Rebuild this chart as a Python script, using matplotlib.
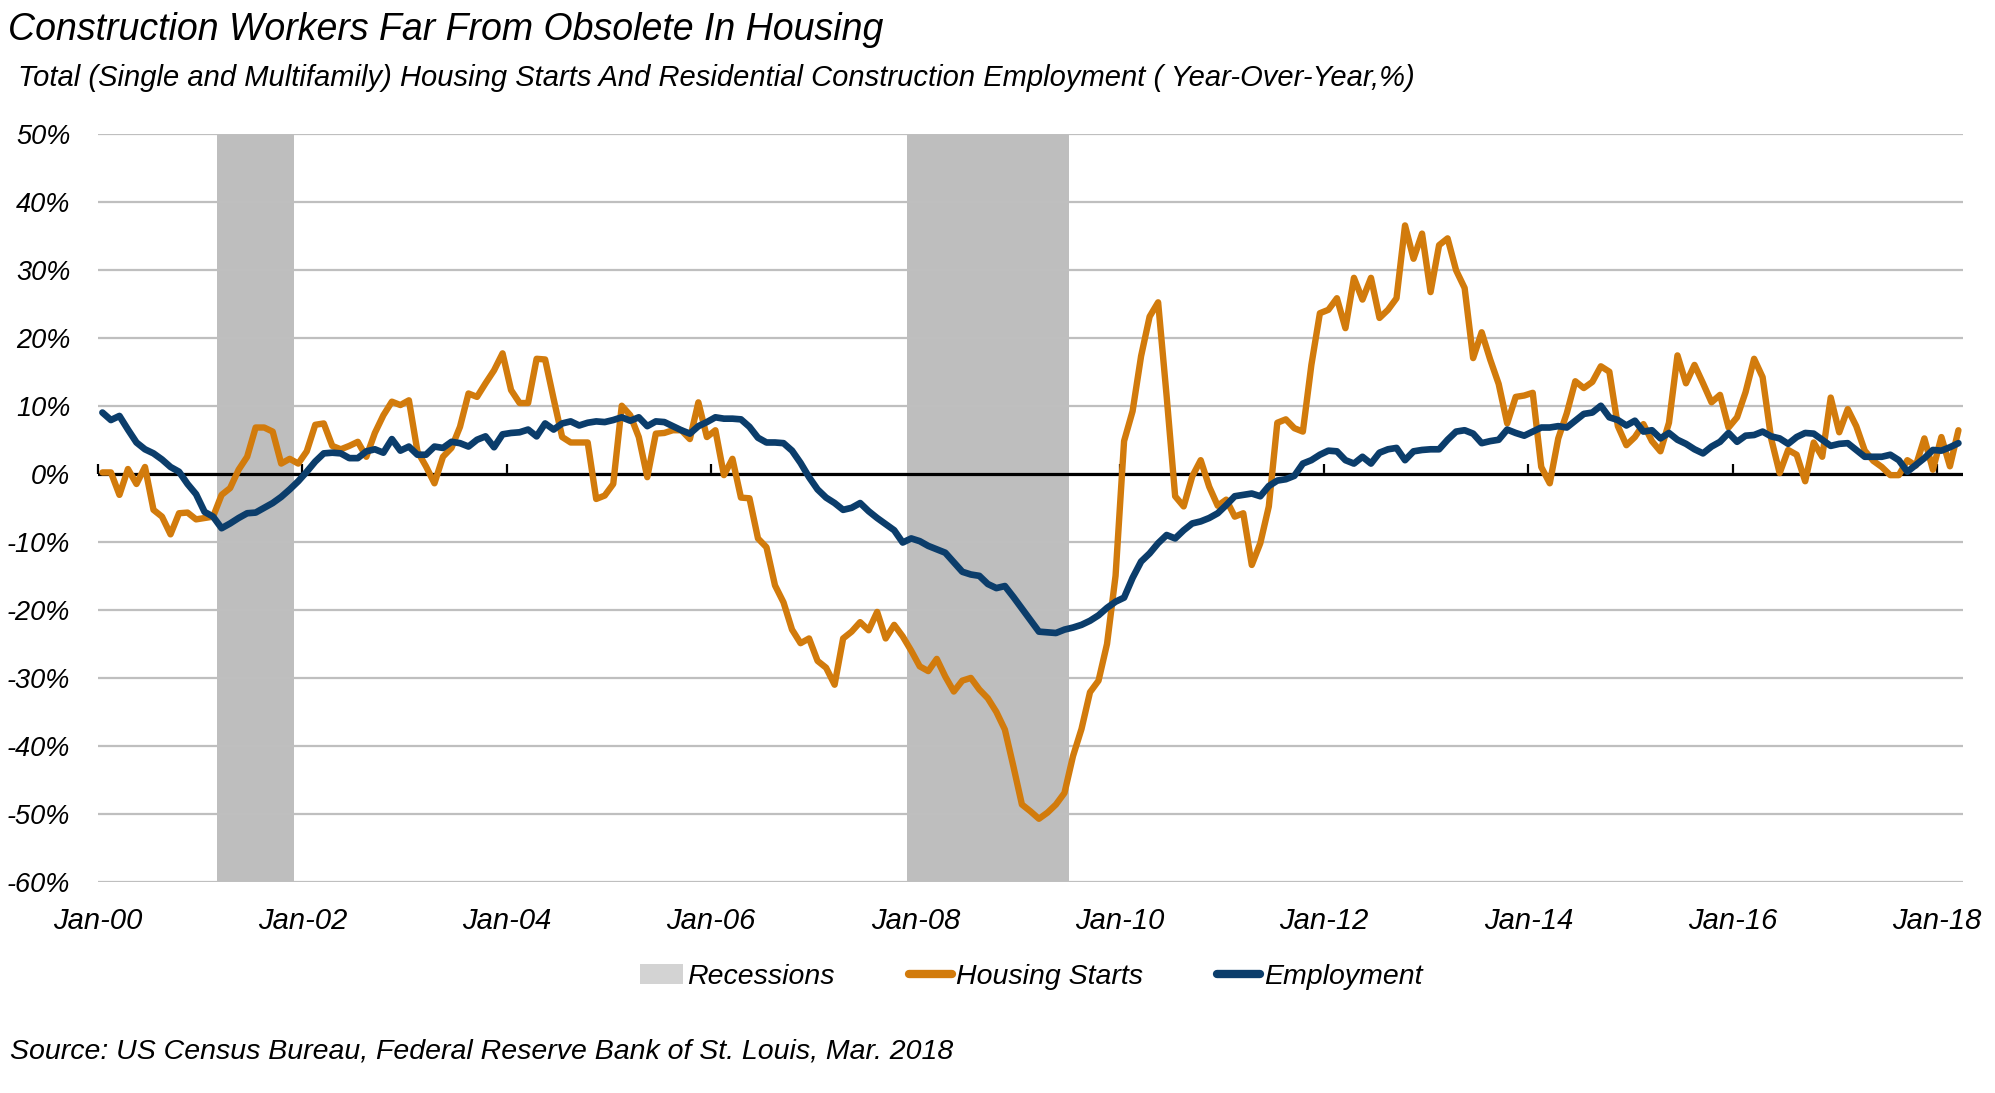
import numpy as np
import matplotlib
matplotlib.use("Agg")
import matplotlib.pyplot as plt
from matplotlib import font_manager
from matplotlib.patches import Patch
from matplotlib.lines import Line2D

# font: condensed italic look if available
installed = {f.name for f in font_manager.fontManager.ttflist}
base_font = 'Liberation Sans Narrow' if 'Liberation Sans Narrow' in installed else 'Liberation Sans'
plt.rcParams['font.family'] = [base_font, 'DejaVu Sans']
plt.rcParams['font.style'] = 'italic'

# monthly YoY %, Jan-2000 .. Mar-2018
housing_starts = [
    0.2, 0.2, -3.1, 0.7, -1.5, 1.0, -5.3, -6.3, -8.9, -5.8, -5.7, -6.7,        # 2000
    -6.5, -6.3, -3.1, -2.1, 0.6, 2.5, 6.8, 6.8, 6.2, 1.5, 2.2, 1.5,            # 2001
    3.3, 7.2, 7.4, 4.1, 3.6, 4.1, 4.7, 2.5, 6.0, 8.6, 10.6, 10.1,              # 2002
    10.8, 3.3, 1.1, -1.4, 2.5, 3.8, 6.9, 11.8, 11.3, 13.3, 15.2, 17.7,         # 2003
    12.3, 10.4, 10.4, 16.9, 16.8, 11.0, 5.4, 4.6, 4.6, 4.6, -3.7, -3.2,        # 2004
    -1.5, 10.0, 8.6, 5.4, -0.5, 5.9, 6.0, 6.4, 6.4, 5.1, 10.5, 5.4,            # 2005
    6.4, -0.2, 2.2, -3.5, -3.6, -9.5, -10.8, -16.4, -18.9, -22.9, -24.9, -24.2,  # 2006
    -27.5, -28.5, -31.0, -24.2, -23.2, -21.8, -23.0, -20.3, -24.2, -22.2, -23.9, -26.0,  # 2007
    -28.3, -29.0, -27.2, -29.8, -32.0, -30.4, -30.0, -31.7, -33.0, -35.0, -37.6, -43.0,  # 2008
    -48.6, -49.6, -50.7, -49.8, -48.6, -46.9, -41.5, -37.5, -32.1, -30.4, -25.0, -15.0,  # 2009
    4.8, 9.2, 17.3, 23.1, 25.2, 11.4, -3.3, -4.8, -0.4, 2.0, -1.9, -4.7,       # 2010
    -3.8, -6.3, -5.8, -13.4, -10.2, -4.8, 7.5, 8.0, 6.7, 6.2, 16.0, 23.6,      # 2011
    24.1, 25.8, 21.4, 28.8, 25.6, 28.8, 22.9, 24.1, 25.8, 36.5, 31.6, 35.3,    # 2012
    26.7, 33.6, 34.6, 29.9, 27.3, 17.0, 20.8, 16.8, 13.2, 7.4, 11.3, 11.5,     # 2013
    11.9, 1.0, -1.4, 5.2, 8.9, 13.6, 12.6, 13.5, 15.8, 15.0, 7.0, 4.2,         # 2014
    5.4, 7.3, 4.8, 3.3, 7.5, 17.4, 13.3, 16.0, 13.3, 10.5, 11.6, 6.8,          # 2015
    8.3, 12.0, 16.9, 14.2, 5.2, 0.1, 3.5, 2.8, -1.1, 4.6, 2.5, 11.2,           # 2016
    6.1, 9.5, 7.0, 3.4, 1.9, 1.0, -0.2, -0.2, 2.0, 1.2, 5.2, 0.6,              # 2017
    5.4, 1.1, 6.4,                                                             # 2018
]

employment = [
    9.0, 7.9, 8.5, 6.5, 4.6, 3.6, 3.0, 2.1, 1.0, 0.3, -1.5, -3.0,
    -5.6, -6.3, -8.0, -7.3, -6.5, -5.8, -5.7, -5.0, -4.3, -3.4, -2.3, -1.1,
    0.3, 1.8, 3.0, 3.1, 3.0, 2.3, 2.3, 3.3, 3.6, 3.1, 5.1, 3.4,
    4.0, 2.8, 2.8, 4.0, 3.8, 4.7, 4.5, 4.0, 5.0, 5.5, 3.9, 5.8,
    6.0, 6.1, 6.5, 5.5, 7.4, 6.5, 7.4, 7.7, 7.1, 7.5, 7.7, 7.6,
    7.9, 8.3, 7.8, 8.3, 7.0, 7.7, 7.6, 7.0, 6.4, 5.9, 7.0, 7.6,
    8.3, 8.1, 8.1, 8.0, 6.9, 5.3, 4.6, 4.6, 4.5, 3.4, 1.6, -0.5,
    -2.3, -3.5, -4.3, -5.3, -5.0, -4.3, -5.5, -6.5, -7.4, -8.3, -10.1, -9.5,
    -9.9, -10.6, -11.1, -11.6, -13.0, -14.4, -14.8, -15.0, -16.2, -16.8, -16.5, -18.1,
    -19.8, -21.5, -23.2, -23.3, -23.4, -22.9, -22.6, -22.2, -21.6, -20.8, -19.7, -18.8,
    -18.2, -15.3, -12.9, -11.7, -10.2, -9.0, -9.5, -8.3, -7.3, -7.0, -6.5, -5.8,
    -4.6, -3.3, -3.1, -2.9, -3.3, -1.8, -1.0, -0.8, -0.3, 1.5, 2.0, 2.8,
    3.4, 3.3, 2.0, 1.5, 2.5, 1.5, 3.1, 3.6, 3.8, 2.0, 3.3, 3.5,
    3.6, 3.6, 5.0, 6.2, 6.4, 5.9, 4.5, 4.8, 5.0, 6.5, 6.0, 5.6,
    6.2, 6.8, 6.8, 7.0, 6.8, 7.8, 8.8, 9.0, 10.0, 8.3, 7.9, 7.1,
    7.8, 6.2, 6.4, 5.2, 6.0, 5.0, 4.4, 3.6, 3.0, 4.0, 4.7, 6.0,
    4.7, 5.6, 5.7, 6.2, 5.5, 5.2, 4.4, 5.4, 6.0, 5.9, 5.0, 4.1,
    4.4, 4.5, 3.5, 2.5, 2.5, 2.5, 2.8, 2.0, 0.3, 1.3, 2.3, 3.5,
    3.4, 3.9, 4.5,
]

# NBER recessions (first and last month)
recession_start = [(2001, 3), (2007, 12)]
recession_end = [(2001, 11), (2009, 6)]

tick_labels = ['Jan-00', 'Jan-02', 'Jan-04', 'Jan-06', 'Jan-08',
               'Jan-10', 'Jan-12', 'Jan-14', 'Jan-16', 'Jan-18']
y_ticks = [-60, -50, -40, -30, -20, -10, 0, 10, 20, 30, 40, 50]

title = 'Construction Workers Far From Obsolete In Housing'
subtitle = ('Total (Single and Multifamily) Housing Starts And Residential '
            'Construction Employment ( Year-Over-Year,%)')
source = 'Source: US Census Bureau, Federal Reserve Bank of St. Louis, Mar. 2018'

ORANGE = '#D27B0C'
NAVY = '#0B3D6B'
BAND = '#BEBEBE'
GRID = '#BFBFBF'


def month_index(ym):
    return (ym[0] - 2000) * 12 + ym[1] - 1


n = len(housing_starts)
x = np.arange(n) + 0.5  # points sit in the middle of each month

fig = plt.figure(figsize=(19.95, 10.93), dpi=100)
ax = fig.add_axes([0.0492, 0.1930, 0.9346, 0.6848])

for s, e in zip(recession_start, recession_end):
    ax.axvspan(month_index(s), month_index(e) + 1, color=BAND, lw=0, zorder=0.8)

ax.axhline(0, color='black', lw=2.3, zorder=2)
ax.plot(x, housing_starts, color=ORANGE, lw=4.6, solid_joinstyle='round',
        solid_capstyle='round', zorder=3)
ax.plot(x, employment[:n], color=NAVY, lw=4.8, solid_joinstyle='round',
        solid_capstyle='round', zorder=4)

ax.set_xlim(0, n)
ax.set_ylim(-60, 50)
ax.set_yticks(y_ticks)
ax.set_yticklabels([f'{v}%' for v in y_ticks])
tick_pos = np.arange(len(tick_labels)) * 24
ax.set_xticks(tick_pos)
ax.set_xticklabels(tick_labels)
ax.tick_params(axis='both', length=0, colors='black')
ax.tick_params(axis='x', pad=18, labelsize=21)
ax.tick_params(axis='y', pad=20, labelsize=19.5)
ax.yaxis.grid(True, color=GRID, lw=1.6)
for sp in ax.spines.values():
    sp.set_visible(False)

# small tick marks sitting on the zero line
zero_frac = (0 - (-60)) / 110
secax = ax.secondary_xaxis(zero_frac)
secax.set_xticks(tick_pos)
secax.tick_params(direction='out', length=7, width=1.6, color='black',
                  labeltop=False, labelbottom=False)
for sp in secax.spines.values():
    sp.set_visible(False)

fig.text(0.004, 0.9726, title, fontsize=27, va='center', ha='left')
fig.text(0.0089, 0.9286, subtitle, fontsize=21, va='center', ha='left')
fig.text(0.005, 0.0384, source, fontsize=20.5, va='center', ha='left')

handles = [Patch(facecolor='#D3D3D3', edgecolor='none'),
           Line2D([], [], color=ORANGE, lw=6, solid_capstyle='round'),
           Line2D([], [], color=NAVY, lw=6, solid_capstyle='round')]
fig.legend(handles, ['Recessions', 'Housing Starts', 'Employment'],
           loc='center', bbox_to_anchor=(0.517, 0.106), ncol=3, frameon=False,
           fontsize=20.5, handlelength=1.5, handletextpad=0.15, columnspacing=2.6)

fig.savefig('out.png', dpi=100)
